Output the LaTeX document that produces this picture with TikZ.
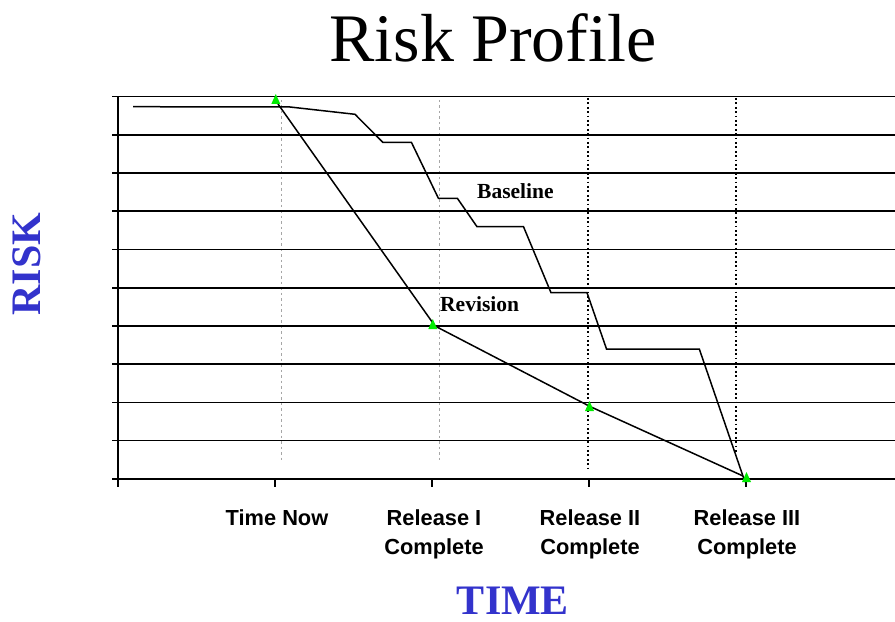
\documentclass[tikz,border=0pt]{standalone}
\usepackage{fontspec}
\setmainfont{Liberation Serif}
\setsansfont{Liberation Sans}
\definecolor{axisblue}{RGB}{51,51,204}
\definecolor{mkgreen}{RGB}{0,235,0}
\begin{document}
\begin{tikzpicture}[x=1bp,y=-1bp,
  grid/.style={line width=1.6bp,black},
  axisline/.style={line width=1.6bp,black},
  dataline/.style={line width=1.5bp,black,line join=miter},
  graydash/.style={line width=0.5bp,black!35,dash pattern=on 2.5bp off 3bp},
  blackdot/.style={line width=1.5bp,black,dash pattern=on 1.8bp off 2.6bp},
  tick label/.style={font=\sffamily\bfseries\fontsize{21.8bp}{29.5bp}\selectfont,align=center,anchor=base,inner sep=0pt},
  series label/.style={font=\bfseries\fontsize{21.5bp}{24bp}\selectfont,anchor=base west,inner sep=0pt},
  axis title/.style={font=\bfseries\fontsize{42bp}{48bp}\selectfont,text=axisblue,inner sep=0pt},
  marker/.style={fill=mkgreen,draw=none}]
\useasboundingbox (0,0) rectangle (895,622);
% title
\node[font=\fontsize{68bp}{76bp}\selectfont,anchor=base,inner sep=0pt] (title) at (493,62) {Risk Profile};
% vertical guide lines
\foreach \x in {281,439} \draw[graydash] (\x,100) -- (\x,463);
\draw[blackdot] (588,98) -- (588,470);
\draw[blackdot] (736,98) -- (736,452);
% grid lines and left ticks
\foreach \k in {0,...,10} \draw[grid] (112,{96.7+38.2*\k}) -- (895,{96.7+38.2*\k});
% y axis
\draw[axisline] (118,96.7) -- (118,486.5);
% bottom ticks
\foreach \x in {275,432,589,746} \draw[axisline] (\x,478.7) -- (\x,486.5);
% baseline series
\coordinate (b0) at (133,106.7);
\coordinate (b1) at (290,107);
\coordinate (b2) at (355,114.3);
\coordinate (b3) at (383,142.5);
\coordinate (b4) at (411.5,142.5);
\coordinate (b5) at (438.5,198.5);
\coordinate (b6) at (457.5,198.5);
\coordinate (b7) at (477,226.7);
\coordinate (b8) at (523.5,226.7);
\coordinate (b9) at (551,292.7);
\coordinate (b10) at (587,292.7);
\coordinate (b11) at (606.5,349);
\coordinate (b12) at (699.3,349);
\coordinate (b13) at (745,482);
\draw[dataline] (b0) -- (b1) -- (b2) -- (b3) -- (b4) -- (b5) -- (b6) -- (b7) -- (b8) -- (b9) -- (b10) -- (b11) -- (b12) -- (b13);
% revision series
\coordinate (r0) at (278,104);
\coordinate (r1) at (435,326);
\coordinate (r2) at (590,406.5);
\coordinate (r3) at (743,476);
\draw[dataline] (r0) -- (r1) -- (r2) -- (r3);
% markers
\foreach \mx/\my in {275.8/99,432.8/324,589.5/406,746.5/477}
  \fill[marker] (\mx-4.5,\my+5) -- (\mx+4.5,\my+5) -- (\mx,\my-5) -- cycle;
% series labels
\node[series label] (baseline) at (477,198.3) {Baseline};
\node[series label] (revision) at (440,311) {Revision};
% tick labels
\node[tick label] (t0) at (277,525) {Time Now};
\node[tick label] (t1) at (434,554.5) {Release I\\Complete};
\node[tick label] (t2) at (590,554.5) {Release II\\Complete};
\node[tick label] (t3) at (747,554.5) {Release III\\Complete};
% axis titles
\node[axis title,rotate=90] (risk) at (27,264) {RISK};
\node[axis title,anchor=base] (time) at (513,614) {TIME};
\end{tikzpicture}
\end{document}
